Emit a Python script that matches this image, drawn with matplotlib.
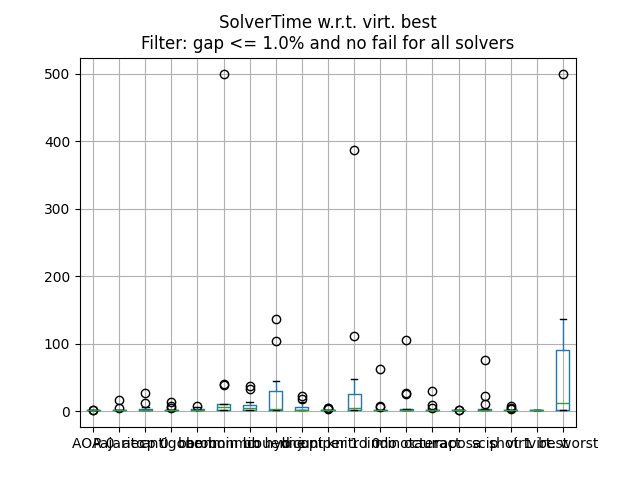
import matplotlib
matplotlib.use("Agg")
import matplotlib.pyplot as plt
import pandas as pd

solvers = ["AOA 0", "Pajarito", "aecp 0", "antigone", "baron", "bonmin bb",
           "bonmin hyb", "couenne", "dicopt", "juniper 1", "knitro 0", "lindo",
           "minotaur", "octeract", "raposa", "scip", "shot 1", "virt. best",
           "virt. worst"]

times = {
    "AOA 0": [1, 1, 1, 1, 1, 1, 1, 1, 1, 1, 1.1, 1.2],
    "Pajarito": [1, 1, 1, 1, 1, 1, 1, 1.2, 1.5, 2, 5, 16],
    "aecp 0": [1, 1, 1, 1, 1, 1, 1.2, 1.5, 2, 3, 6, 12, 27],
    "antigone": [1, 1, 1, 1, 1, 1, 1, 1.2, 1.5, 2, 4, 7, 13],
    "baron": [1, 1, 1, 1, 1, 1, 1, 1.5, 2, 3, 4, 6, 8],
    "bonmin bb": [1, 1, 1, 1, 2, 3, 5, 8, 10, 10, 11, 38, 40, 499],
    "bonmin hyb": [1, 1, 1, 1, 2, 3, 4, 6, 7, 9, 13, 32, 37],
    "couenne": [1, 1, 1, 1, 1, 2, 3, 10, 20, 30, 44, 104, 136],
    "dicopt": [1, 1, 1, 1, 1, 1, 1, 1.2, 1.5, 2, 8, 13, 18, 22],
    "juniper 1": [1, 1, 1, 1, 1, 1, 1, 1, 1.1, 1.2, 3, 4, 5],
    "knitro 0": [1, 1, 1, 1, 1, 2, 3, 4, 6, 7, 9, 43, 47, 111, 387],
    "lindo": [1, 1, 1, 1, 1, 1, 1, 1, 1.2, 1.5, 2, 6, 7, 63],
    "minotaur": [1, 1, 1, 1, 1, 1, 1, 1.2, 1.5, 2, 3, 25, 27, 105],
    "octeract": [1, 1, 1, 1, 1, 1, 1, 1.2, 1.5, 2, 5, 9, 30],
    "raposa": [1, 1, 1, 1, 1, 1, 1, 1, 1, 1, 1.2, 1.5],
    "scip": [1, 1, 1, 1, 1, 1, 1, 1.2, 1.5, 2, 3, 10, 22, 75],
    "shot 1": [1, 1, 1, 1, 1, 1, 1, 1.1, 1.2, 1.5, 3, 5, 7],
    "virt. best": [1, 1, 1, 1, 1, 1, 1, 1, 1, 1],
    "virt. worst": [1, 1, 1, 2, 3, 5, 20, 60, 87, 100, 136, 499],
}

df = pd.DataFrame({k: pd.Series(v) for k, v in times.items()})[solvers]

fig, ax = plt.subplots(figsize=(6.4, 4.8), dpi=100)
df.boxplot(ax=ax)
ax.set_title("SolverTime w.r.t. virt. best\nFilter: gap <= 1.0% and no fail for all solvers")
fig.savefig("out.png")
